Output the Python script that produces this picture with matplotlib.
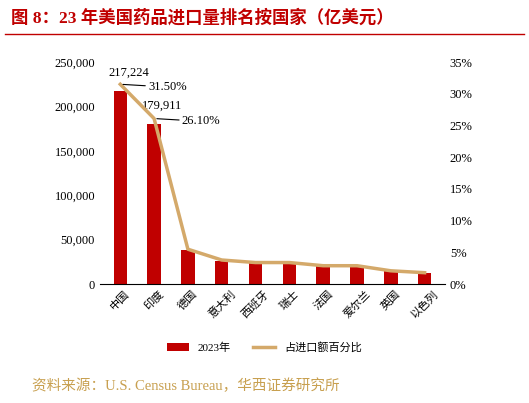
import matplotlib
matplotlib.use("Agg")
import matplotlib.pyplot as plt
from matplotlib.ticker import FuncFormatter

plt.rcParams['font.family'] = ['Liberation Serif', 'Noto Sans CJK SC', 'DejaVu Sans']

categories = ['中国', '印度', '德国', '意大利', '西班牙', '瑞士', '法国', '爱尔兰', '英国', '以色列']
values = [217224, 179911, 38000, 26000, 23500, 23500, 20000, 20000, 14500, 12500]
shares = [31.5, 26.1, 5.5, 3.8, 3.4, 3.4, 2.9, 2.9, 2.1, 1.8]

red = '#C00000'
gold = '#D4A96A'

fig = plt.figure(figsize=(5.29, 4.03), dpi=100)
ax = fig.add_axes([0.189, 0.295, 0.652, 0.551])
x = range(len(categories))
b = ax.bar(x, values, width=0.4, color=red, label='2023年')
ax.set_ylim(0, 250000)
ax.set_yticks(range(0, 250001, 50000))
ax.yaxis.set_major_formatter(FuncFormatter(lambda v, p: f'{int(v):,}'))
ax.set_xlim(-0.6, len(categories) - 0.4)
ax.set_xticks(list(x))
ax.set_xticklabels(categories, rotation=45, fontsize=8, family=['Noto Sans CJK SC'])
for s in ['top', 'right', 'left']:
    ax.spines[s].set_visible(False)
ax.tick_params(axis='y', length=0, labelsize=9)
ax.tick_params(axis='x', length=0)
ax.annotate(f'{values[0]:,}', (0, values[0]), xytext=(6, 9), textcoords='offset points', ha='center', va='bottom', fontsize=9)
ax.annotate(f'{values[1]:,}', (1, values[1]), xytext=(6, 9), textcoords='offset points', ha='center', va='bottom', fontsize=9)

ax2 = ax.twinx()
l, = ax2.plot(list(x), shares, color=gold, lw=2.5, label='占进口额百分比')
ax2.set_ylim(0, 35)
ax2.set_yticks(range(0, 36, 5))
ax2.yaxis.set_major_formatter(FuncFormatter(lambda v, p: f'{int(v)}%'))
for s in ['top', 'right', 'left', 'bottom']:
    ax2.spines[s].set_visible(False)
ax2.tick_params(axis='y', length=0, labelsize=9)
for i in range(2):
    ax2.annotate(f'{shares[i]:.2f}%', (i, shares[i]), xytext=(20, -2), textcoords='offset points', va='center', fontsize=9,
                 arrowprops=dict(arrowstyle='-', color='black', lw=0.8, shrinkA=0, shrinkB=2))

fig.legend([b, l], ['2023年', '占进口额百分比'], loc='center', bbox_to_anchor=(0.5, 0.138), ncol=2, frameon=False,
           prop={'family': ['Liberation Serif', 'Noto Sans CJK SC'], 'size': 8})

fig.text(0.02, 0.955, '图 8：23 年美国药品进口量排名按国家（亿美元）', color=red, fontsize=12.5, fontweight='bold',
         va='center', family=['Liberation Serif', 'Noto Sans CJK SC'])
fig.add_artist(plt.Line2D([0.01, 0.99], [0.915, 0.915], color=red, lw=1))
fig.text(0.06, 0.043, '资料来源：U.S. Census Bureau，华西证券研究所', color='#C8A050', fontsize=10.5, va='center',
         family=['Liberation Serif', 'Noto Sans CJK SC'])
fig.savefig('out.png', dpi=100)
